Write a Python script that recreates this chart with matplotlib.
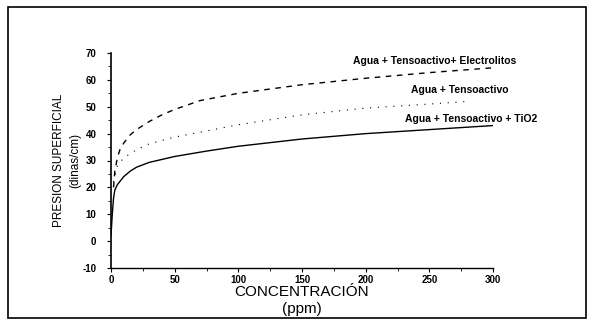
import matplotlib.pyplot as plt
from matplotlib.patches import Rectangle
from matplotlib.ticker import MultipleLocator

plt.rcParams['font.family'] = ['Liberation Sans', 'DejaVu Sans']
plt.rcParams['axes.unicode_minus'] = False

# Agua + Tensoactivo + Electrolitos (dashed)
conc_elec = [2, 3, 5, 7, 10, 15, 20, 30, 40, 50, 70, 100, 150, 200, 250, 300]
pres_elec = [20, 26, 31, 34, 36.5, 39.5, 41.5, 44.5, 47, 49, 52.3, 55, 58.2, 60.6, 62.7, 64.5]

# Agua + Tensoactivo (dotted)
conc_tens = [2, 5, 10, 20, 30, 50, 100, 150, 200, 250, 280]
pres_tens = [22, 28, 31, 34, 36.2, 38.7, 43.3, 47, 49.5, 51, 52]

# Agua + Tensoactivo + TiO2 (solid)
conc_tio2 = [0, 1, 2, 3, 5, 10, 15, 20, 30, 50, 75, 100, 150, 200, 250, 300]
pres_tio2 = [2, 10, 16, 19, 21, 24, 26, 27.5, 29.3, 31.5, 33.5, 35.3, 38, 40, 41.5, 43]

fig = plt.figure(figsize=(5.93, 3.23), dpi=100)
ax = fig.add_axes([111 / 593, 1 - 268 / 323, 382 / 593, 215 / 323])

ax.plot(conc_elec, pres_elec, color='black', linestyle=(0, (4, 4)), linewidth=1.0)
ax.plot(conc_tens, pres_tens, color='black', linestyle=(0, (1, 6)), linewidth=0.8)
ax.plot(conc_tio2, pres_tio2, color='black', linestyle='-', linewidth=1.0)

lab_kw = dict(fontsize=7.5, fontweight='bold', ha='center', va='center')
ax.text(254, 67.1, 'Agua + Tensoactivo+ Electrolitos', **lab_kw)
ax.text(274, 56.1, 'Agua + Tensoactivo', **lab_kw)
ax.text(283, 45.4, 'Agua + Tensoactivo + TiO2', **lab_kw)

ax.set_xlim(0, 300)
ax.set_ylim(-10, 70)
ax.xaxis.set_major_locator(MultipleLocator(50))
ax.xaxis.set_minor_locator(MultipleLocator(25))
ax.yaxis.set_major_locator(MultipleLocator(10))
ax.yaxis.set_minor_locator(MultipleLocator(5))
ax.spines['top'].set_visible(False)
ax.spines['right'].set_visible(False)
ax.spines['left'].set_linewidth(1.2)
ax.spines['bottom'].set_linewidth(1.0)
ax.tick_params(axis='both', which='major', labelsize=7, length=3, width=0.8, pad=2)
ax.tick_params(axis='y', which='major', pad=7.5)
ax.tick_params(axis='both', which='minor', length=2, width=0.6)
for t in ax.get_xticklabels() + ax.get_yticklabels():
    t.set_fontweight('bold')

ax.set_xlabel('CONCENTRACIÓN\n(ppm)', fontsize=11, linespacing=1.25)
ax.xaxis.set_label_coords(0.5, -0.08, transform=ax.transAxes)
ax.xaxis.label.set_va('top')
ax.set_ylabel('PRESION SUPERFICIAL\n(dinas/cm)', fontsize=8.5, linespacing=1.5)
ax.yaxis.set_label_coords(-0.077, 0.5)

fig.patches.append(Rectangle((8 / 593, 1 - 318 / 323), 578 / 593, 311 / 323,
                             transform=fig.transFigure, fill=False,
                             edgecolor='black', linewidth=1.2))

plt.savefig('out.png', dpi=100)
